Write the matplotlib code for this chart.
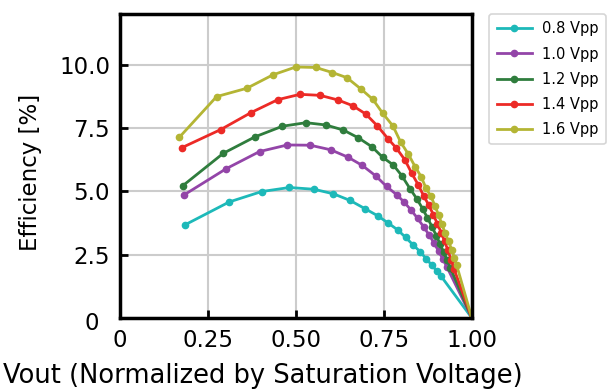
import matplotlib
matplotlib.use("Agg")
import matplotlib.pyplot as plt
from matplotlib.transforms import ScaledTranslation

labels = ["0.8 Vpp", "1.0 Vpp", "1.2 Vpp", "1.4 Vpp", "1.6 Vpp"]
colors = ["#1db9b9", "#9345a8", "#2f7d3d", "#ec2a26", "#b4b534"]

x_08 = [0.186, 0.311, 0.403, 0.482, 0.552, 0.607, 0.654, 0.697, 0.733, 0.763, 0.789,
        0.812, 0.834, 0.853, 0.870, 0.886, 0.900, 0.912, 1.0]
y_08 = [3.68, 4.58, 4.99, 5.15, 5.08, 4.90, 4.64, 4.31, 4.03, 3.74, 3.48,
        3.18, 2.87, 2.62, 2.34, 2.09, 1.86, 1.66, 0.0]

x_10 = [0.183, 0.302, 0.397, 0.476, 0.541, 0.599, 0.648, 0.689, 0.727, 0.758, 0.787,
        0.808, 0.828, 0.846, 0.863, 0.879, 0.893, 0.906, 0.918, 0.929, 1.0]
y_10 = [4.86, 5.89, 6.57, 6.83, 6.82, 6.64, 6.35, 6.02, 5.61, 5.19, 4.86,
        4.57, 4.25, 3.93, 3.60, 3.27, 2.95, 2.63, 2.32, 2.02, 0.0]

x_12 = [0.179, 0.294, 0.384, 0.462, 0.529, 0.585, 0.635, 0.678, 0.716, 0.747, 0.777,
        0.801, 0.825, 0.844, 0.860, 0.874, 0.887, 0.899, 0.910, 0.920, 0.930, 0.939, 1.0]
y_12 = [5.22, 6.50, 7.15, 7.57, 7.71, 7.62, 7.42, 7.11, 6.76, 6.34, 6.04,
        5.62, 5.09, 4.70, 4.32, 3.95, 3.60, 3.25, 2.92, 2.60, 2.28, 1.98, 0.0]

x_14 = [0.176, 0.287, 0.373, 0.449, 0.512, 0.569, 0.619, 0.662, 0.699, 0.732, 0.763,
        0.786, 0.810, 0.829, 0.848, 0.864, 0.878, 0.891, 0.902, 0.913, 0.923, 0.932,
        0.941, 0.949, 1.0]
y_14 = [6.72, 7.44, 8.11, 8.62, 8.83, 8.79, 8.61, 8.38, 8.05, 7.58, 7.06,
        6.70, 6.24, 5.72, 5.25, 4.80, 4.45, 4.07, 3.72, 3.37, 3.02, 2.67,
        2.30, 1.95, 0.0]

x_16 = [0.169, 0.275, 0.361, 0.435, 0.500, 0.557, 0.604, 0.645, 0.686, 0.719, 0.747,
        0.776, 0.798, 0.820, 0.839, 0.856, 0.870, 0.884, 0.896, 0.906, 0.915, 0.924,
        0.934, 0.943, 0.950, 0.957, 1.0]
y_16 = [7.13, 8.74, 9.07, 9.60, 9.91, 9.89, 9.69, 9.49, 9.03, 8.63, 8.08,
        7.58, 6.94, 6.46, 5.97, 5.58, 5.12, 4.80, 4.40, 4.05, 3.70, 3.36,
        3.02, 2.69, 2.38, 2.08, 0.0]

xs = [x_08, x_10, x_12, x_14, x_16]
ys = [y_08, y_10, y_12, y_14, y_16]

xticks = [0, 0.25, 0.5, 0.75, 1.0]
xticklabels = ["0", "0.25", "0.50", "0.75", "1.00"]
yticks = [0, 2.5, 5.0, 7.5, 10.0]
yticklabels = ["0", "2.5", "5.0", "7.5", "10.0"]

plt.rcParams['font.family'] = ['DejaVu Sans']

fig = plt.figure(figsize=(6.08, 3.91), dpi=100)
ax = fig.add_axes([0.197, 0.187, 0.579, 0.777])

for x, y, c, lab in zip(xs, ys, colors, labels):
    ax.plot(x, y, color=c, lw=2.0, marker='o', markersize=4.5, label=lab)

ax.set_xlim(0, 1.0)
ax.set_ylim(0, 12)
ax.set_xticks(xticks)
ax.set_xticklabels(xticklabels)
ax.set_yticks(yticks)
ax.set_yticklabels(yticklabels)
ax.grid(True, color='#cccccc', lw=1.5)
ax.set_axisbelow(True)
for s in ax.spines.values():
    s.set_linewidth(2.5)
ax.tick_params(direction='in', length=6, width=2, labelsize=16.5)
ax.tick_params(axis='x', pad=8)
ax.tick_params(axis='y', pad=7)

# y "0" label sits lower-left, nearer the corner
ylab0 = ax.get_yticklabels()[0]
ylab0.set_transform(ylab0.get_transform() + ScaledTranslation(-11/100, -3/100, fig.dpi_scale_trans))

ax.set_xlabel("Vout (Normalized by Saturation Voltage)", fontsize=18.5)
ax.xaxis.set_label_coords(0.407, -0.148)
ax.set_ylabel("Efficiency [%]", fontsize=16.5)
ax.yaxis.set_label_coords(-0.221, 0.48)

leg = ax.legend(loc='upper left', bbox_to_anchor=(1.05, 1.0), fontsize=10.5,
                frameon=True, fancybox=True, edgecolor='#cccccc',
                handlelength=2.4, handletextpad=0.7, labelspacing=0.7,
                borderaxespad=0.0, borderpad=0.5)
leg.get_frame().set_linewidth(1.2)

fig.savefig("out.png", dpi=100)
